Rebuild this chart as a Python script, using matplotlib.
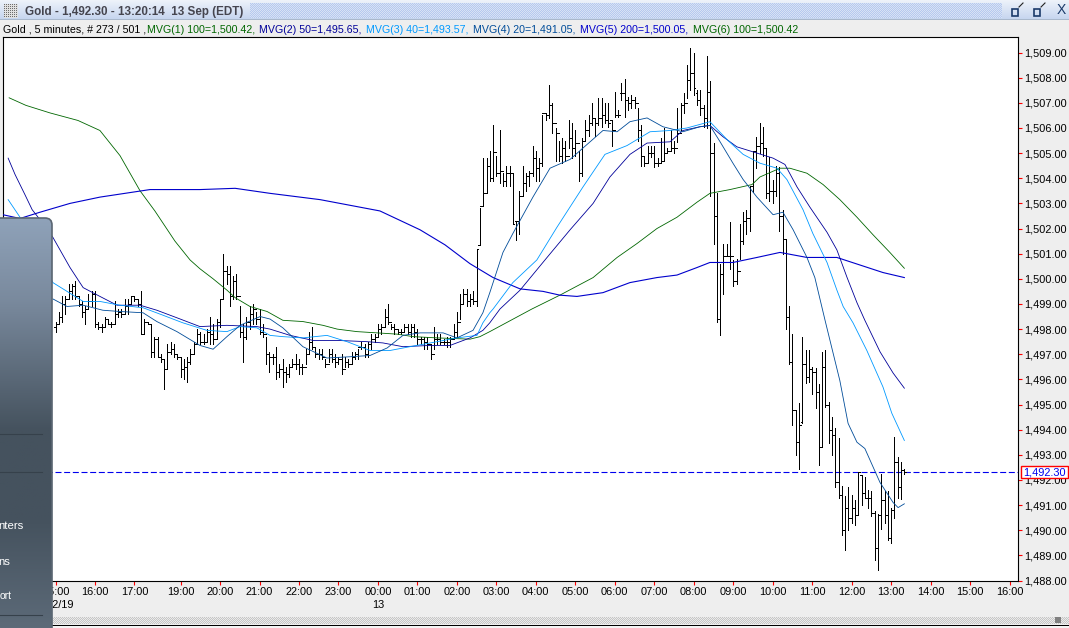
import numpy as np
import matplotlib
matplotlib.use('Agg')
import matplotlib.pyplot as plt
from matplotlib.patches import FancyBboxPatch, Rectangle

plt.rcParams['font.family'] = ['Liberation Sans', 'DejaVu Sans']

# Bars: 5 minute index, 0 is 16:00 on the 12th. 18:00 hour is the session break, so no bars there.
first_bar = -12
highs = [1498.3,1498.7,1499.3,1499.3,1499.8,1499.8,1499.9,1499.3,1499.1,1498.9,1499.4,1499.5,
 1499.5,1498.3,1498.2,1498.5,1498.4,1498.3,1499.1,1498.8,1498.8,1499.2,
 1499.2,1499.3,1499.3,1499.2,1499.5,1498.4,1498.3,1498.2,1497.7,1497.7,
 1497.0,1496.8,1497.4,1497.5,1497.4,1497.0,1496.9,1496.8,1496.9,1497.2,
 1497.5,1498.0,1497.9,1497.8,1498.0,1498.5,1498.2,1498.4,1499.2,1501.0,
 1500.5,1500.5,1500.1,1500.2,1498.9,1498.2,1498.5,1498.9,1499.0,1498.7,
 1498.8,1498.2,1497.7,1497.1,1497.0,1497.3,1496.6,1496.8,1496.5,1496.6,
 1496.8,1497.0,1496.8,1496.6,1497.2,1497.9,1498.1,1497.3,1497.2,1497.2,
 1496.8,1497.2,1497.2,1497.0,1496.9,1497.0,1496.9,1496.8,1497.1,1497.1,
 1497.2,1497.5,1497.4,1497.5,1497.8,1497.8,1498.2,1498.2,1498.8,1499.0,
 1498.2,1498.2,1498.0,1498.0,1498.2,1498.2,1498.2,1498.2,1498.0,1497.7,
 1497.7,1497.7,1497.4,1498.1,1497.8,1497.8,1497.6,1497.7,1497.7,1498.2,
 1498.7,1499.4,1499.6,1499.6,1499.4,1499.5,1501.2,1502.8,1504.8,1504.8,
 1505.1,1506.1,1504.9,1505.9,1504.2,1504.5,1504.5,1504.2,1502.3,1503.5,
 1504.5,1504.2,1504.3,1505.3,1505.1,1504.8,1506.5,1506.6,1507.7,1507.0,
 1506.0,1505.5,1505.6,1505.5,1506.3,1506.2,1505.9,1505.1,1505.6,1506.3,
 1506.5,1507.0,1506.4,1507.2,1507.2,1507.0,1507.0,1506.3,1507.45,1506.7,
 1507.8,1507.95,1507.25,1507.3,1507.25,1506.8,1506.1,1504.9,1505.3,1505.3,
 1505.3,1504.8,1505.6,1506.0,1505.2,1505.9,1505.5,1506.8,1507.0,1507.4,
 1508.5,1509.17,1509.0,1507.5,1507.5,1506.9,1508.85,1507.85,1505.4,1503.4,
 1500.6,1501.4,1501.4,1502.25,1500.75,1500.8,1502.2,1502.65,1502.75,1503.65,
 1505.1,1505.65,1506.2,1506.05,1505.2,1504.85,1503.95,1504.5,1504.45,1502.75,
 1501.6,1498.9,1497.8,1494.8,1495.05,1497.7,1497.15,1497.15,1496.5,1496.45,
 1495.8,1497.1,1497.15,1495.1,1494.5,1494.05,1493.65,1491.75,1491.35,1491.7,
 1491.4,1491.2,1492.3,1492.2,1492.1,1491.6,1491.55,1490.75,1490.65,1492.25,
 1491.55,1491.55,1490.9,1493.7,1492.9,1492.7,1492.45]
lows = [1497.9,1498.2,1498.3,1498.6,1499.2,1499.2,1499.2,1498.9,1498.5,1498.2,1498.8,1498.9,
 1498.1,1498.0,1497.9,1498.1,1498.2,1498.1,1498.2,1498.5,1498.5,1498.6,
 1498.6,1499.0,1499.1,1498.9,1497.8,1497.8,1498.2,1496.9,1496.9,1496.9,
 1496.7,1495.6,1496.4,1497.0,1496.9,1496.8,1496.1,1496.0,1495.9,1496.6,
 1497.0,1497.4,1497.4,1497.4,1497.5,1497.4,1497.4,1497.6,1498.1,1499.2,
 1499.8,1498.9,1499.2,1499.2,1497.7,1496.7,1497.6,1498.0,1498.2,1498.2,
 1497.8,1497.7,1496.6,1496.3,1496.6,1496.0,1496.1,1495.7,1495.9,1496.1,
 1496.5,1496.4,1496.2,1496.2,1496.6,1497.0,1497.2,1496.9,1496.8,1496.8,
 1496.5,1496.7,1496.7,1496.5,1496.6,1496.2,1496.5,1496.5,1496.6,1496.8,
 1496.8,1497.2,1496.9,1496.9,1497.2,1497.5,1497.7,1497.8,1498.1,1498.2,
 1498.0,1497.8,1497.8,1497.8,1497.9,1497.8,1497.7,1497.7,1497.4,1497.4,
 1497.2,1497.2,1496.8,1497.2,1497.4,1497.4,1497.4,1497.3,1497.3,1497.6,
 1497.7,1498.4,1499.0,1498.9,1498.9,1499.0,1498.9,1501.35,1502.9,1503.4,
 1503.9,1503.9,1504.1,1503.8,1503.7,1503.7,1503.7,1502.2,1501.55,1501.8,
 1503.3,1503.5,1503.7,1504.1,1503.9,1503.9,1504.5,1506.3,1506.4,1505.8,
 1504.7,1504.7,1504.6,1504.7,1505.2,1504.8,1504.9,1503.9,1504.1,1505.5,
 1505.7,1506.1,1505.7,1506.1,1506.05,1506.2,1506.05,1505.3,1506.45,1506.45,
 1507.1,1506.45,1506.7,1506.8,1506.8,1505.5,1504.5,1504.5,1504.65,1504.85,
 1504.45,1504.5,1504.65,1504.7,1505.0,1505.1,1505.0,1505.45,1505.9,1506.6,
 1507.2,1507.5,1507.3,1506.9,1506.5,1506.05,1506.0,1503.3,1501.4,1498.3,
 1497.75,1499.4,1500.9,1500.4,1499.7,1499.8,1500.8,1501.4,1501.8,1501.9,
 1503.45,1504.4,1505.0,1504.9,1503.2,1503.1,1503.0,1503.3,1501.9,1501.0,
 1498.0,1496.6,1494.2,1493.0,1492.45,1494.25,1495.85,1495.9,1495.4,1494.85,
 1492.6,1493.3,1494.9,1493.45,1493.0,1491.7,1491.3,1489.8,1489.2,1490.0,
 1490.3,1490.2,1490.6,1491.0,1491.3,1490.9,1490.55,1488.8,1488.4,1490.05,
 1490.3,1489.6,1489.5,1490.5,1491.3,1491.25,1492.25]
opens = [1498.1,1498.2,1498.5,1499.0,1499.2,1499.5,1499.7,1499.3,1499.0,1498.7,1498.8,1499.1,
 1499.4,1498.2,1498.1,1498.1,1498.4,1498.2,1498.2,1498.6,1498.7,1498.6,
 1498.9,1499.0,1499.3,1499.2,1499.0,1497.8,1498.3,1498.2,1497.1,1497.6,
 1496.9,1496.8,1496.4,1497.1,1497.2,1497.0,1496.9,1496.4,1496.5,1496.7,
 1497.0,1497.4,1497.8,1497.5,1497.5,1497.9,1497.8,1497.6,1498.3,1499.2,
 1500.3,1500.2,1499.3,1499.9,1499.3,1497.9,1497.7,1498.3,1498.6,1498.8,
 1498.4,1497.9,1497.8,1497.0,1496.9,1496.9,1496.3,1496.4,1496.3,1496.2,
 1496.5,1496.6,1496.6,1496.5,1496.5,1497.0,1497.5,1497.3,1497.0,1497.0,
 1496.9,1496.6,1497.0,1496.8,1496.7,1496.8,1496.4,1496.7,1496.6,1496.9,
 1497.0,1497.3,1497.3,1497.0,1497.4,1497.6,1497.7,1498.0,1498.1,1498.5,
 1498.3,1498.1,1498.0,1497.9,1497.9,1498.1,1497.9,1498.1,1497.9,1497.6,
 1497.6,1497.5,1497.4,1497.0,1497.6,1497.6,1497.5,1497.5,1497.5,1497.6,
 1497.9,1498.3,1499.0,1499.4,1499.1,1499.2,1499.1,1501.35,1502.9,1503.4,
 1504.5,1504.0,1505.05,1504.2,1504.3,1503.9,1504.2,1504.2,1502.3,1502.3,
 1503.3,1503.8,1504.1,1504.2,1504.8,1504.4,1504.6,1506.6,1506.5,1506.9,
 1506.2,1505.8,1504.9,1505.2,1504.9,1505.6,1505.2,1505.4,1504.2,1505.5,
 1505.9,1506.2,1506.4,1506.2,1506.4,1506.5,1506.3,1506.3,1505.9,1506.5,
 1507.4,1507.4,1507.1,1507.0,1507.1,1507.0,1505.9,1504.9,1504.6,1505.0,
 1505.0,1504.6,1504.6,1504.7,1505.0,1505.1,1505.2,1505.2,1505.8,1506.9,
 1507.0,1507.9,1508.2,1507.4,1507.1,1506.8,1506.4,1507.45,1505.0,1502.5,
 1498.4,1500.2,1500.9,1500.9,1500.9,1499.9,1500.3,1501.5,1502.3,1502.4,
 1503.7,1505.1,1505.3,1505.4,1505.2,1503.4,1503.5,1503.5,1504.2,1502.5,
 1501.6,1498.5,1496.7,1494.8,1493.5,1494.3,1496.6,1496.1,1496.4,1496.3,
 1495.5,1493.3,1496.5,1495.0,1494.0,1493.8,1491.9,1491.4,1490.0,1490.9,
 1490.5,1490.9,1490.6,1492.2,1491.5,1491.3,1491.3,1490.7,1489.3,1490.6,
 1491.2,1490.6,1489.7,1490.8,1492.7,1491.7,1492.4]
closes = [1498.2,1498.5,1499.0,1499.2,1499.5,1499.7,1499.3,1499.0,1498.7,1498.8,1499.1,1499.4,
 1498.2,1498.1,1498.1,1498.4,1498.2,1498.2,1498.6,1498.7,1498.6,1498.9,
 1499.0,1499.3,1499.2,1499.0,1497.8,1498.3,1498.2,1497.1,1497.6,1496.9,
 1496.8,1496.4,1497.1,1497.2,1497.0,1496.9,1496.4,1496.5,1496.7,1497.0,
 1497.4,1497.8,1497.5,1497.5,1497.9,1497.8,1497.6,1498.3,1499.2,1500.3,
 1500.2,1499.3,1499.9,1499.3,1497.9,1497.7,1498.3,1498.6,1498.8,1498.4,
 1497.9,1497.8,1497.0,1496.9,1496.9,1496.3,1496.4,1496.3,1496.2,1496.5,
 1496.6,1496.6,1496.5,1496.5,1497.0,1497.5,1497.3,1497.0,1497.0,1496.9,
 1496.6,1497.0,1496.8,1496.7,1496.8,1496.4,1496.7,1496.6,1496.9,1497.0,
 1497.3,1497.3,1497.0,1497.4,1497.6,1497.7,1498.0,1498.1,1498.5,1498.3,
 1498.1,1498.0,1497.9,1497.9,1498.1,1497.9,1498.1,1497.9,1497.6,1497.6,
 1497.5,1497.4,1497.0,1497.6,1497.6,1497.5,1497.5,1497.5,1497.6,1497.9,
 1498.3,1499.0,1499.4,1499.1,1499.2,1499.1,1501.2,1502.9,1503.4,1504.5,
 1504.0,1505.05,1504.2,1504.3,1503.9,1504.2,1504.2,1502.2,1502.3,1503.3,
 1503.8,1504.1,1504.2,1504.8,1504.4,1504.6,1506.6,1506.5,1506.9,1506.2,
 1505.8,1504.9,1505.2,1504.9,1505.6,1505.2,1505.4,1504.2,1505.5,1505.9,
 1506.2,1506.4,1506.2,1506.4,1506.5,1506.3,1506.2,1505.9,1506.5,1506.5,
 1507.4,1507.1,1507.0,1507.1,1507.0,1505.9,1504.9,1504.6,1505.0,1505.0,
 1504.6,1504.6,1504.7,1505.0,1505.1,1505.2,1505.2,1505.8,1506.9,1507.0,
 1507.9,1508.2,1507.6,1507.1,1506.8,1506.4,1507.45,1505.0,1502.5,1498.4,
 1500.2,1500.9,1500.9,1500.9,1499.9,1500.3,1501.5,1502.3,1502.4,1503.7,
 1505.1,1505.3,1505.4,1505.2,1503.4,1503.5,1503.5,1504.2,1502.5,1501.6,
 1498.5,1496.7,1494.8,1493.5,1494.2,1496.6,1496.1,1496.4,1496.3,1495.5,
 1493.3,1496.5,1495.0,1494.0,1493.8,1491.9,1491.4,1490.0,1490.9,1490.5,
 1490.9,1490.6,1492.3,1491.5,1491.3,1491.3,1490.7,1489.3,1490.6,1491.2,
 1490.6,1489.7,1490.8,1492.7,1491.7,1492.4,1492.3]

# Moving averages, read at the bend points
mvg100_x = [-26.1,-21,-13.7,-5.2,1.5,7.6,13.7,18.2,24.3,28.9,31.9,35.9,40.1,42.6,47.1,52.3,57.1,63.2,69.3,73.6,79.6,85.7,91.8,96.7,104,114,117,120,132.8,141.3,151.4,158.7,164.7,170.8,176.9,183,186.9,193,199.7,202.1,208.2,211.2,216.4,221.3,226.4,231.6,236.5,241.6,246]
mvg100_y = [1507.2,1506.9,1506.6,1506.3,1505.9,1504.9,1503.5,1502.7,1501.5,1500.75,1500.4,1500.0,1499.55,1499.25,1498.9,1498.7,1498.35,1498.3,1498.15,1498.0,1497.9,1497.85,1497.8,1497.7,1497.65,1497.6,1497.7,1497.9,1498.8,1499.35,1500.05,1500.85,1501.4,1502.0,1502.45,1503.05,1503.4,1503.55,1503.75,1504.05,1504.4,1504.4,1504.2,1503.75,1503.15,1502.45,1501.75,1501.05,1500.42]
mvg200_x = [-28,-22.8,-16.7,-7.6,1.5,16.7,31.9,42.6,53.2,68.4,86.6,98.8,106.4,114,121,129.2,136.2,141.3,146.5,154.4,162.6,170.8,176.9,183,186.9,193.9,201.2,208.2,216.4,225.5,232.5,239.5,246]
mvg200_y = [1502.55,1502.4,1502.65,1503.0,1503.25,1503.55,1503.55,1503.6,1503.4,1503.15,1502.7,1501.95,1501.35,1500.6,1500.05,1499.6,1499.5,1499.35,1499.3,1499.45,1499.85,1500.05,1500.15,1500.45,1500.65,1500.65,1500.85,1501.05,1500.85,1500.85,1500.55,1500.25,1500.05]
mvg50_x = [-26.4,-24.3,-21.3,-19.1,-17.3,-12.8,-7.6,-3.6,1.5,6.7,13.7,18.8,24.9,31.9,40.1,49.2,53.2,59.3,66.3,73.6,82.7,87.5,93.6,101.8,107.9,114,117.9,120,123.1,129.2,137.4,144.4,151.4,156.5,162.6,167.8,174.8,178.7,183.9,186.9,190.9,195.1,200,206.1,209.7,213.4,217.3,222.5,225.5,228.6,231.6,234,238.6,242.6,246]
mvg50_y = [1504.8,1504.15,1503.35,1502.75,1502.45,1501.65,1500.45,1499.65,1499.3,1498.95,1498.95,1498.75,1498.45,1498.1,1498.15,1498.1,1498.0,1497.75,1497.55,1497.55,1497.5,1497.45,1497.3,1497.35,1497.35,1497.65,1497.95,1498.25,1498.8,1499.55,1500.85,1501.95,1503.0,1504.05,1504.95,1505.4,1505.45,1505.9,1506.05,1506.1,1505.65,1505.25,1505.05,1504.8,1504.55,1503.65,1502.85,1501.85,1501.15,1500.05,1499.05,1498.35,1497.1,1496.25,1495.65]
mvg40_x = [-26.4,-22.8,-12.8,-8.5,-3.6,1.5,7.6,14.6,20.7,26.7,34,40.1,44.1,49.2,53.2,57.1,63.2,70.5,76.6,83.6,89.7,95.7,104,110,116.1,117.9,120,121,127,134.3,140.4,148.3,155,161.7,168.7,174.8,179.9,186.9,192.4,197,202.1,207.3,210.3,215.2,218.2,222.5,225.5,227.4,230.4,234.6,239.5,242.2,246]
mvg40_y = [1503.15,1502.45,1499.85,1499.5,1499.1,1499.1,1498.95,1498.85,1498.55,1498.25,1497.95,1497.9,1498.1,1498.05,1497.75,1497.7,1497.65,1497.75,1497.5,1497.15,1497.15,1497.3,1497.5,1497.65,1497.75,1498.25,1498.65,1498.8,1499.85,1500.75,1502.05,1503.65,1504.95,1505.3,1505.85,1505.9,1506.0,1506.25,1505.5,1504.95,1504.6,1504.4,1503.95,1502.75,1501.8,1500.65,1499.55,1498.9,1498.25,1497.15,1495.7,1494.65,1493.57]
mvg20_x = [-12.8,-8.5,-3.6,2.4,7.6,14.6,18.8,24.9,31.9,35.9,40.1,44.1,50.2,53.2,57.1,63.2,70.5,77.5,83.6,88.8,93.6,98.8,105.8,110,114.9,117.9,120,124,127,133.1,138.3,144.4,148.3,154.4,158.7,162.6,167.8,172.6,178.7,183.9,186.9,190,193.9,197,201.2,206.1,209.1,212.2,216.4,218.8,221.9,226.4,228.9,231.6,234,238.6,242.6,244.1,246]
mvg20_y = [1499.2,1498.9,1498.95,1498.75,1498.7,1498.65,1498.3,1497.9,1497.35,1497.2,1497.7,1498.15,1498.5,1498.4,1498.05,1497.3,1496.85,1496.9,1496.95,1497.25,1497.75,1497.85,1497.85,1497.65,1497.95,1498.65,1499.45,1501.05,1501.8,1503.25,1504.4,1504.75,1505.2,1505.9,1505.85,1506.25,1506.4,1506.05,1505.85,1506.05,1506.1,1505.45,1504.6,1503.95,1503.25,1502.55,1502.65,1501.95,1500.85,1500.05,1498.35,1495.95,1494.25,1493.5,1493.25,1491.9,1491.1,1490.9,1491.05]
last_price = 1492.30

price_ticks = list(range(1488, 1510))
time_pos = [-12,0,12,26,38,50,62,74,86,98,110,122,134,146,158,170,182,194,206,218,230,242,254,266,278]
time_labels = ['15:00','16:00','17:00','19:00','20:00','21:00','22:00','23:00','00:00','01:00','02:00','03:00','04:00','05:00','06:00','07:00','08:00','09:00','10:00','11:00','12:00','13:00','14:00','15:00','16:00']

W, H = 1069, 628
fig = plt.figure(figsize=(W / 100, H / 100), dpi=100, facecolor='#EEEEEE')

# window frame behind the chart, in pixels
bg = fig.add_axes([0, 0, 1, 1], zorder=0)
bg.set_xlim(0, W)
bg.set_ylim(H, 0)
bg.axis('off')
grad = np.linspace(0, 1, 19).reshape(-1, 1, 1) * (np.array([0.78, 0.84, 0.94]) - np.array([0.93, 0.95, 0.98])) + np.array([0.93, 0.95, 0.98])
bg.imshow(grad, extent=(0, W, 19, 0), aspect='auto', zorder=1)
yy, xx = np.mgrid[0:15, 0:752]
dots = ((xx + yy) % 2 == 0)[..., None] * np.array([-0.14, -0.10, -0.02]) + np.array([0.85, 0.89, 0.96])
bg.imshow(dots, extent=(250, 1002, 18, 3), aspect='auto', interpolation='nearest', zorder=2)
yy, xx = np.mgrid[0:14, 0:14]
dots = ((xx % 2 == 0) & (yy % 2 == 0))[..., None] * np.array([-0.45, -0.45, -0.45]) + np.array([0.88, 0.88, 0.88])
bg.imshow(dots, extent=(4, 18, 18, 4), aspect='auto', interpolation='nearest', zorder=2)
bg.text(25, 11.5, 'Gold - 1,492.30 - 13:20:14  13 Sep (EDT)', fontsize=8.4, fontweight='bold', color='#45454F', va='center', zorder=3)
for px, col in [(1015, '#1A3A6A'), (1037, '#1A3A6A')]:
    bg.add_patch(Rectangle((px - 3, 9), 6, 7, fill=False, ec=col, lw=1.2, zorder=3))
bg.plot([1019, 1023], [7, 3], color='#222222', lw=0.8, zorder=3)
bg.plot([1041, 1045], [7, 3], color='#222222', lw=0.8, zorder=3)
bg.text(1061, 10.5, 'X', fontsize=10, color='#1A3A6A', ha='center', va='center', zorder=3)
bg.add_patch(Rectangle((0, 19), W, 1, fc='#A9B8CC', ec='none', zorder=3))

legend_bits = [(3, 'Gold , 5 minutes, # 273 / 501 ,', 'black'),
               (147, 'MVG(1) 100=1,500.42,', '#006600'), (259, 'MVG(2) 50=1,495.65,', '#000099'),
               (366, 'MVG(3) 40=1,493.57,', '#0099FF'), (473, 'MVG(4) 20=1,491.05,', '#004C99'),
               (580, 'MVG(5) 200=1,500.05,', '#0000CC'), (693, 'MVG(6) 100=1,500.42', '#006600')]
for px, txt, col in legend_bits:
    bg.text(px, 30, txt, fontsize=7.65, color=col, va='center', zorder=3)

yy, xx = np.mgrid[0:7, 0:1017]
dots = ((xx + yy) % 2 == 0)[..., None] * np.array([-0.14, -0.14, -0.14]) + np.array([0.92, 0.92, 0.92])
bg.imshow(dots, extent=(52, W, 624, 617), aspect='auto', interpolation='nearest', zorder=2)
bg.add_patch(Rectangle((52, 625), W, 1, fc='black', ec='none', zorder=3))
bg.add_patch(Rectangle((52, 626), W, 2, fc='#F4F4F4', ec='none', zorder=3))
bg.add_patch(Rectangle((1055, 617), 6, 6, fc='#808080', ec='none', zorder=3))
bg.set_xlim(0, W)
bg.set_ylim(H, 0)

# main chart
ax = fig.add_axes([3 / W, 1 - 580.5 / H, 1015 / W, 543.5 / H], zorder=1, facecolor='white')
ax.set_xlim((3 - 95) / 3.29, (1018 - 95) / 3.29)
ax.set_ylim(1488, 1488 + 543.5 / 25.14)

bar_x = np.arange(first_bar, first_bar + len(highs))
ax.vlines(bar_x, lows, highs, color='black', lw=0.72, antialiased=False, zorder=4)
ax.hlines(opens, bar_x - 0.45, bar_x, color='black', lw=0.72, antialiased=False, zorder=4)
ax.hlines(closes, bar_x, bar_x + 0.45, color='black', lw=0.72, antialiased=False, zorder=4)

ax.plot(mvg100_x, mvg100_y, color='#006600', lw=0.6, zorder=5)
ax.plot(mvg200_x, mvg200_y, color='#0000CC', lw=0.8, zorder=5)
ax.plot(mvg50_x, mvg50_y, color='#000099', lw=0.6, zorder=5)
ax.plot(mvg40_x, mvg40_y, color='#0099FF', lw=0.6, zorder=5)
ax.plot(mvg20_x, mvg20_y, color='#004C99', lw=0.6, zorder=5)
ax.axhline(last_price, color='#0000EE', lw=0.8, dashes=(5.4, 2.4), zorder=3)

ax.yaxis.tick_right()
ax.set_yticks(price_ticks)
ax.set_yticklabels([f'{p:,.2f}' for p in price_ticks], fontsize=7.9)
ax.tick_params(axis='y', length=3, width=0.8, color='red', pad=1.5)
ax.set_xticks(time_pos)
ax.set_xticklabels(time_labels, fontsize=7.9)
ax.tick_params(axis='x', length=3, width=0.8, color='red', pad=2)
for s in ax.spines.values():
    s.set_linewidth(0.8)
    s.set_color('black')

# date row and the last price box, in pixels, drawn over the axis labels
top = fig.add_axes([0, 0, 1, 1], zorder=2)
top.set_xlim(0, W)
top.set_ylim(H, 0)
top.axis('off')
top.patch.set_alpha(0)
top.text(56, 605, '9/12/19', fontsize=7.9, ha='center', va='center')
top.text(378, 605, '13', fontsize=7.9, ha='center', va='center')
top.add_patch(Rectangle((1021, 466), 47, 12, fc='white', ec='red', lw=1.0, zorder=3))
top.text(1044.5, 472.5, f'{last_price:,.2f}', fontsize=7.9, color='#0000EE', ha='center', va='center', zorder=4)

# the dark side panel that slides over the chart
panel = FancyBboxPatch((-20, 218), 72, 430, boxstyle='round,pad=0,rounding_size=7', fc='none', ec='#5A6672', lw=1.2, zorder=6)
top.add_patch(panel)
py = np.linspace(218, 628, 200)
top_col = np.array([0x8F, 0xA2, 0xB9]) / 255
mid_col = np.array([0x45, 0x52, 0x5E]) / 255
low_col = np.array([0x5C, 0x6A, 0x78]) / 255
shade = np.stack([np.interp(py, [218, 300, 430, 520, 628], [top_col[k], (top_col[k] * 0.85), mid_col[k], mid_col[k], low_col[k]]) for k in range(3)], axis=1)
img = top.imshow(shade[:, None, :], extent=(-20, 52, 628, 218), aspect='auto', zorder=5)
img.set_clip_path(panel)
top.set_xlim(0, W)
top.set_ylim(H, 0)
for sep_y in [434, 472, 615]:
    top.plot([0, 42], [sep_y, sep_y], color='#36414B', lw=0.8, zorder=7)
for right, row, txt in [(24, 526, 'nters'), (10, 562, 'ns'), (12, 596, 'ort')]:
    top.text(right, row, txt, fontsize=7.5 if txt == 'ort' else 8.2, color='white', ha='right', va='center', zorder=7)

fig.savefig('out.png', dpi=100, facecolor=fig.get_facecolor())
